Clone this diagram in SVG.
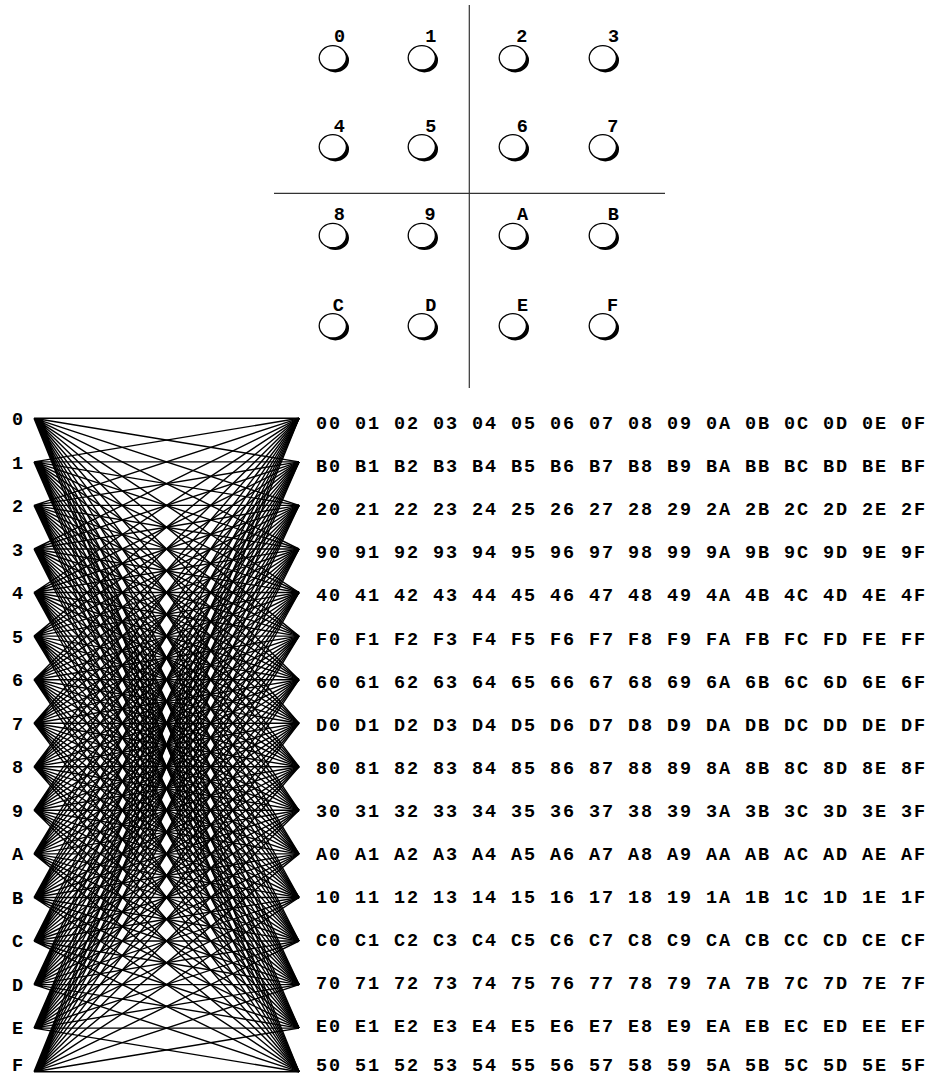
<svg xmlns="http://www.w3.org/2000/svg" width="933" height="1076" viewBox="0 0 933 1076">
  <style>
    .t { font-family: "Liberation Mono", "DejaVu Sans Mono", monospace; font-weight: bold; font-size: 18.5px; fill: #000; }
    .row { letter-spacing: 1.9px; }
    .mid { text-anchor: middle; }
    .shadow { fill: #000; }
    .disc { fill: #fff; stroke: #000; stroke-width: 1.3; }
    .axis { stroke: #333; stroke-width: 1.2; fill: none; }
    .edge { stroke: #000; stroke-width: 1.4; fill: none; }
  </style>
  <defs>
    <g id="disc">
      <ellipse class="shadow" cx="2.6" cy="2.4" rx="13.6" ry="12.2"/>
      <ellipse class="disc" cx="0" cy="0" rx="13.6" ry="12.2"/>
    </g>
  </defs>
  <rect width="933" height="1076" fill="#fff"/>

  <!-- quadrant axes of the 4x4 grid -->
  <g id="axes">
    <line class="axis" x1="469.3" y1="5" x2="469.3" y2="388"/>
    <line class="axis" x1="274" y1="193.3" x2="665" y2="193.3"/>
  </g>

  <!-- 4x4 grid of cells -->
  <g id="cell-0"><use href="#disc" x="332.8" y="57.8"/><text class="t mid" x="339.5" y="41.7">0</text></g>
  <g id="cell-1"><use href="#disc" x="421.8" y="57.8"/><text class="t mid" x="430.8" y="41.7">1</text></g>
  <g id="cell-2"><use href="#disc" x="512.8" y="57.8"/><text class="t mid" x="521.8" y="41.7">2</text></g>
  <g id="cell-3"><use href="#disc" x="602.8" y="57.8"/><text class="t mid" x="613.5" y="41.7">3</text></g>
  <g id="cell-4"><use href="#disc" x="332.8" y="146.8"/><text class="t mid" x="339.2" y="131.7">4</text></g>
  <g id="cell-5"><use href="#disc" x="421.8" y="146.8"/><text class="t mid" x="430.8" y="131.7">5</text></g>
  <g id="cell-6"><use href="#disc" x="512.8" y="146.8"/><text class="t mid" x="522.3" y="131.7">6</text></g>
  <g id="cell-7"><use href="#disc" x="602.8" y="146.8"/><text class="t mid" x="612.8" y="131.7">7</text></g>
  <g id="cell-8"><use href="#disc" x="332.8" y="235.5"/><text class="t mid" x="339.2" y="220">8</text></g>
  <g id="cell-9"><use href="#disc" x="421.8" y="235.5"/><text class="t mid" x="430" y="220">9</text></g>
  <g id="cell-A"><use href="#disc" x="512.8" y="235.5"/><text class="t mid" x="522.5" y="220">A</text></g>
  <g id="cell-B"><use href="#disc" x="602.8" y="235.5"/><text class="t mid" x="613.3" y="220">B</text></g>
  <g id="cell-C"><use href="#disc" x="332.8" y="325.8"/><text class="t mid" x="338.3" y="310.7">C</text></g>
  <g id="cell-D"><use href="#disc" x="421.8" y="325.8"/><text class="t mid" x="430.8" y="310.7">D</text></g>
  <g id="cell-E"><use href="#disc" x="512.8" y="325.8"/><text class="t mid" x="522.5" y="310.7">E</text></g>
  <g id="cell-F"><use href="#disc" x="602.8" y="325.8"/><text class="t mid" x="612.5" y="310.7">F</text></g>

  <!-- complete bipartite wiring: every input port to every output port -->
  <g id="connectors" class="edge">
    <path d="M34 418.3L299 418.3M34 418.3L299 461.9M34 418.3L299 505.4M34 418.3L299 549M34 418.3L299 592.5M34 418.3L299 636.1M34 418.3L299 679.7M34 418.3L299 723.2M34 418.3L299 766.8M34 418.3L299 810.3M34 418.3L299 853.9M34 418.3L299 897.5M34 418.3L299 941M34 418.3L299 984.6M34 418.3L299 1028.1M34 418.3L299 1071.7"/>
    <path d="M34 461.9L299 418.3M34 461.9L299 461.9M34 461.9L299 505.4M34 461.9L299 549M34 461.9L299 592.5M34 461.9L299 636.1M34 461.9L299 679.7M34 461.9L299 723.2M34 461.9L299 766.8M34 461.9L299 810.3M34 461.9L299 853.9M34 461.9L299 897.5M34 461.9L299 941M34 461.9L299 984.6M34 461.9L299 1028.1M34 461.9L299 1071.7"/>
    <path d="M34 505.4L299 418.3M34 505.4L299 461.9M34 505.4L299 505.4M34 505.4L299 549M34 505.4L299 592.5M34 505.4L299 636.1M34 505.4L299 679.7M34 505.4L299 723.2M34 505.4L299 766.8M34 505.4L299 810.3M34 505.4L299 853.9M34 505.4L299 897.5M34 505.4L299 941M34 505.4L299 984.6M34 505.4L299 1028.1M34 505.4L299 1071.7"/>
    <path d="M34 549L299 418.3M34 549L299 461.9M34 549L299 505.4M34 549L299 549M34 549L299 592.5M34 549L299 636.1M34 549L299 679.7M34 549L299 723.2M34 549L299 766.8M34 549L299 810.3M34 549L299 853.9M34 549L299 897.5M34 549L299 941M34 549L299 984.6M34 549L299 1028.1M34 549L299 1071.7"/>
    <path d="M34 592.5L299 418.3M34 592.5L299 461.9M34 592.5L299 505.4M34 592.5L299 549M34 592.5L299 592.5M34 592.5L299 636.1M34 592.5L299 679.7M34 592.5L299 723.2M34 592.5L299 766.8M34 592.5L299 810.3M34 592.5L299 853.9M34 592.5L299 897.5M34 592.5L299 941M34 592.5L299 984.6M34 592.5L299 1028.1M34 592.5L299 1071.7"/>
    <path d="M34 636.1L299 418.3M34 636.1L299 461.9M34 636.1L299 505.4M34 636.1L299 549M34 636.1L299 592.5M34 636.1L299 636.1M34 636.1L299 679.7M34 636.1L299 723.2M34 636.1L299 766.8M34 636.1L299 810.3M34 636.1L299 853.9M34 636.1L299 897.5M34 636.1L299 941M34 636.1L299 984.6M34 636.1L299 1028.1M34 636.1L299 1071.7"/>
    <path d="M34 679.7L299 418.3M34 679.7L299 461.9M34 679.7L299 505.4M34 679.7L299 549M34 679.7L299 592.5M34 679.7L299 636.1M34 679.7L299 679.7M34 679.7L299 723.2M34 679.7L299 766.8M34 679.7L299 810.3M34 679.7L299 853.9M34 679.7L299 897.5M34 679.7L299 941M34 679.7L299 984.6M34 679.7L299 1028.1M34 679.7L299 1071.7"/>
    <path d="M34 723.2L299 418.3M34 723.2L299 461.9M34 723.2L299 505.4M34 723.2L299 549M34 723.2L299 592.5M34 723.2L299 636.1M34 723.2L299 679.7M34 723.2L299 723.2M34 723.2L299 766.8M34 723.2L299 810.3M34 723.2L299 853.9M34 723.2L299 897.5M34 723.2L299 941M34 723.2L299 984.6M34 723.2L299 1028.1M34 723.2L299 1071.7"/>
    <path d="M34 766.8L299 418.3M34 766.8L299 461.9M34 766.8L299 505.4M34 766.8L299 549M34 766.8L299 592.5M34 766.8L299 636.1M34 766.8L299 679.7M34 766.8L299 723.2M34 766.8L299 766.8M34 766.8L299 810.3M34 766.8L299 853.9M34 766.8L299 897.5M34 766.8L299 941M34 766.8L299 984.6M34 766.8L299 1028.1M34 766.8L299 1071.7"/>
    <path d="M34 810.3L299 418.3M34 810.3L299 461.9M34 810.3L299 505.4M34 810.3L299 549M34 810.3L299 592.5M34 810.3L299 636.1M34 810.3L299 679.7M34 810.3L299 723.2M34 810.3L299 766.8M34 810.3L299 810.3M34 810.3L299 853.9M34 810.3L299 897.5M34 810.3L299 941M34 810.3L299 984.6M34 810.3L299 1028.1M34 810.3L299 1071.7"/>
    <path d="M34 853.9L299 418.3M34 853.9L299 461.9M34 853.9L299 505.4M34 853.9L299 549M34 853.9L299 592.5M34 853.9L299 636.1M34 853.9L299 679.7M34 853.9L299 723.2M34 853.9L299 766.8M34 853.9L299 810.3M34 853.9L299 853.9M34 853.9L299 897.5M34 853.9L299 941M34 853.9L299 984.6M34 853.9L299 1028.1M34 853.9L299 1071.7"/>
    <path d="M34 897.5L299 418.3M34 897.5L299 461.9M34 897.5L299 505.4M34 897.5L299 549M34 897.5L299 592.5M34 897.5L299 636.1M34 897.5L299 679.7M34 897.5L299 723.2M34 897.5L299 766.8M34 897.5L299 810.3M34 897.5L299 853.9M34 897.5L299 897.5M34 897.5L299 941M34 897.5L299 984.6M34 897.5L299 1028.1M34 897.5L299 1071.7"/>
    <path d="M34 941L299 418.3M34 941L299 461.9M34 941L299 505.4M34 941L299 549M34 941L299 592.5M34 941L299 636.1M34 941L299 679.7M34 941L299 723.2M34 941L299 766.8M34 941L299 810.3M34 941L299 853.9M34 941L299 897.5M34 941L299 941M34 941L299 984.6M34 941L299 1028.1M34 941L299 1071.7"/>
    <path d="M34 984.6L299 418.3M34 984.6L299 461.9M34 984.6L299 505.4M34 984.6L299 549M34 984.6L299 592.5M34 984.6L299 636.1M34 984.6L299 679.7M34 984.6L299 723.2M34 984.6L299 766.8M34 984.6L299 810.3M34 984.6L299 853.9M34 984.6L299 897.5M34 984.6L299 941M34 984.6L299 984.6M34 984.6L299 1028.1M34 984.6L299 1071.7"/>
    <path d="M34 1028.1L299 418.3M34 1028.1L299 461.9M34 1028.1L299 505.4M34 1028.1L299 549M34 1028.1L299 592.5M34 1028.1L299 636.1M34 1028.1L299 679.7M34 1028.1L299 723.2M34 1028.1L299 766.8M34 1028.1L299 810.3M34 1028.1L299 853.9M34 1028.1L299 897.5M34 1028.1L299 941M34 1028.1L299 984.6M34 1028.1L299 1028.1M34 1028.1L299 1071.7"/>
    <path d="M34 1071.7L299 418.3M34 1071.7L299 461.9M34 1071.7L299 505.4M34 1071.7L299 549M34 1071.7L299 592.5M34 1071.7L299 636.1M34 1071.7L299 679.7M34 1071.7L299 723.2M34 1071.7L299 766.8M34 1071.7L299 810.3M34 1071.7L299 853.9M34 1071.7L299 897.5M34 1071.7L299 941M34 1071.7L299 984.6M34 1071.7L299 1028.1M34 1071.7L299 1071.7"/>
  </g>

  <!-- input ports -->
  <g id="in-0"><text class="t mid" x="17.5" y="425">0</text></g>
  <g id="in-1"><text class="t mid" x="17.5" y="468.5">1</text></g>
  <g id="in-2"><text class="t mid" x="17.5" y="512">2</text></g>
  <g id="in-3"><text class="t mid" x="17.5" y="555.5">3</text></g>
  <g id="in-4"><text class="t mid" x="17.5" y="599">4</text></g>
  <g id="in-5"><text class="t mid" x="17.5" y="642.5">5</text></g>
  <g id="in-6"><text class="t mid" x="17.5" y="686">6</text></g>
  <g id="in-7"><text class="t mid" x="17.5" y="729.5">7</text></g>
  <g id="in-8"><text class="t mid" x="17.5" y="773">8</text></g>
  <g id="in-9"><text class="t mid" x="17.5" y="816.5">9</text></g>
  <g id="in-A"><text class="t mid" x="17.5" y="860">A</text></g>
  <g id="in-B"><text class="t mid" x="17.5" y="903.5">B</text></g>
  <g id="in-C"><text class="t mid" x="17.5" y="947">C</text></g>
  <g id="in-D"><text class="t mid" x="17.5" y="990.5">D</text></g>
  <g id="in-E"><text class="t mid" x="17.5" y="1034">E</text></g>
  <g id="in-F"><text class="t mid" x="17.5" y="1071">F</text></g>

  <!-- output ports with their address rows -->
  <g id="out-0"><text class="t row" x="316" y="429">00 01 02 03 04 05 06 07 08 09 0A 0B 0C 0D 0E 0F</text></g>
  <g id="out-1"><text class="t row" x="316" y="472.1">B0 B1 B2 B3 B4 B5 B6 B7 B8 B9 BA BB BC BD BE BF</text></g>
  <g id="out-2"><text class="t row" x="316" y="515.2">20 21 22 23 24 25 26 27 28 29 2A 2B 2C 2D 2E 2F</text></g>
  <g id="out-3"><text class="t row" x="316" y="558.3">90 91 92 93 94 95 96 97 98 99 9A 9B 9C 9D 9E 9F</text></g>
  <g id="out-4"><text class="t row" x="316" y="601.4">40 41 42 43 44 45 46 47 48 49 4A 4B 4C 4D 4E 4F</text></g>
  <g id="out-5"><text class="t row" x="316" y="644.5">F0 F1 F2 F3 F4 F5 F6 F7 F8 F9 FA FB FC FD FE FF</text></g>
  <g id="out-6"><text class="t row" x="316" y="687.6">60 61 62 63 64 65 66 67 68 69 6A 6B 6C 6D 6E 6F</text></g>
  <g id="out-7"><text class="t row" x="316" y="730.7">D0 D1 D2 D3 D4 D5 D6 D7 D8 D9 DA DB DC DD DE DF</text></g>
  <g id="out-8"><text class="t row" x="316" y="773.8">80 81 82 83 84 85 86 87 88 89 8A 8B 8C 8D 8E 8F</text></g>
  <g id="out-9"><text class="t row" x="316" y="816.9">30 31 32 33 34 35 36 37 38 39 3A 3B 3C 3D 3E 3F</text></g>
  <g id="out-A"><text class="t row" x="316" y="860">A0 A1 A2 A3 A4 A5 A6 A7 A8 A9 AA AB AC AD AE AF</text></g>
  <g id="out-B"><text class="t row" x="316" y="903.1">10 11 12 13 14 15 16 17 18 19 1A 1B 1C 1D 1E 1F</text></g>
  <g id="out-C"><text class="t row" x="316" y="946.2">C0 C1 C2 C3 C4 C5 C6 C7 C8 C9 CA CB CC CD CE CF</text></g>
  <g id="out-D"><text class="t row" x="316" y="989.3">70 71 72 73 74 75 76 77 78 79 7A 7B 7C 7D 7E 7F</text></g>
  <g id="out-E"><text class="t row" x="316" y="1032.4">E0 E1 E2 E3 E4 E5 E6 E7 E8 E9 EA EB EC ED EE EF</text></g>
  <g id="out-F"><text class="t row" x="316" y="1071">50 51 52 53 54 55 56 57 58 59 5A 5B 5C 5D 5E 5F</text></g>
</svg>
